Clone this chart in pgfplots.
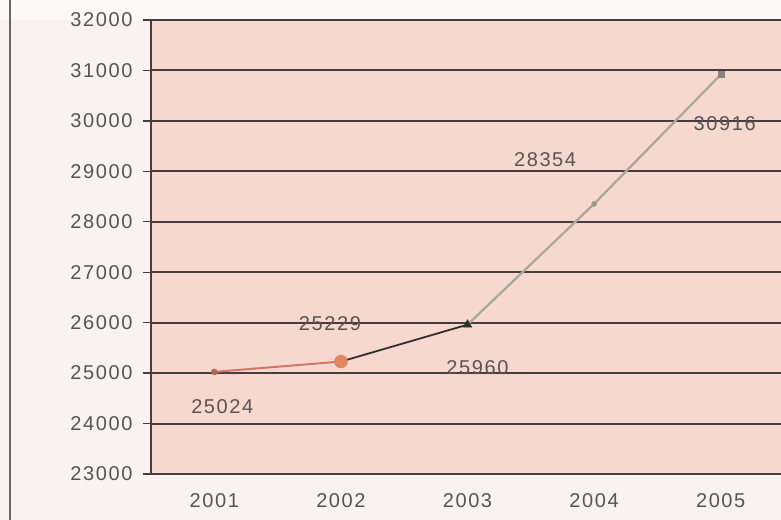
\documentclass[border=0pt]{standalone}
\usepackage{pgfplots}
\pgfplotsset{compat=1.18}
\usepackage{pgfplotstable}
\usepackage{fontspec}
\setmainfont{Liberation Sans}[LetterSpace=8]

\definecolor{plotbg}{HTML}{F6D8CF}
\definecolor{pagebg}{HTML}{FAF2F2}
\definecolor{gridc}{HTML}{463E3E}
\definecolor{txt}{HTML}{585454}
\definecolor{segA}{HTML}{D07868}
\definecolor{segB}{HTML}{303030}
\definecolor{segC}{HTML}{ABA89C}

% year index, value, label offset (bp)
\pgfplotstableread{
x y dx dy
1 25024 8 -35
2 25229 -11 38
3 25960 10 -43
4 28354 -49 44
5 30916 4 -49
}\datatable

\begin{document}
\begin{tikzpicture}
\useasboundingbox[fill=pagebg] (-151bp,-46bp) rectangle (630bp,474bp);
\fill[white,opacity=0.6] (-151bp,454bp) rectangle (630bp,474bp);
\draw[gridc!80, line width=1.8bp] (-141bp,-46bp) -- (-141bp,474bp);
\begin{axis}[
  at={(0,0)}, anchor=south west,
  scale only axis, width=633bp, height=454bp,
  xmin=0.5, xmax=5.5, ymin=23000, ymax=32000,
  axis background/.style={fill=plotbg},
  font=\fontsize{20bp}{23bp}\selectfont\color{txt},
  ytick distance=1000,
  scaled y ticks=false,
  /pgf/number format/.cd, 1000 sep={}, assume math mode=true,
  /pgfplots/.cd,
  ymajorgrids,
  grid style={gridc, line width=1.9bp},
  axis x line*=bottom, axis y line*=left,
  axis line style={gridc, line width=1.8bp, -},
  xtick={1,2,3,4,5},
  xticklabels={2001,2002,2003,2004,2005},
  x tick style={draw=none},
  extra x ticks={1.5,2.5,3.5,4.5},
  extra x tick labels={},
  extra x tick style={tick style={draw=gridc, line width=1.4bp}, major tick length=10bp, tick align=center},
  y tick style={gridc, line width=1.4bp},
  major tick length=8bp,
  tick align=outside,
  xticklabel style={yshift=-8bp},
  yticklabel style={xshift=-7bp},
  clip=false,
]
\addplot[segA, line width=2bp] coordinates {(1,25024) (2,25229)};
\addplot[segB, line width=1.8bp] coordinates {(2,25229) (3,25960)};
\addplot[segC, line width=2.3bp] coordinates {(3,25960) (4,28354) (5,30916)};

\addplot[only marks, mark=*, mark size=3bp, color=segA!85!black] coordinates {(1,25024)};
\addplot[only marks, mark=*, mark size=6.5bp, color={rgb,255:red,226;green,134;blue,96}] coordinates {(2,25229)};
\addplot[only marks, mark=triangle*, mark size=5bp, color={rgb,255:red,40;green,52;blue,44}] coordinates {(3,25960)};
\addplot[only marks, mark=*, mark size=2.5bp, color=segC!90!black] coordinates {(4,28354)};
\addplot[only marks, mark=square*, mark size=3bp, color={rgb,255:red,140;green,128;blue,128}] coordinates {(5,30916)};

\addplot[draw=none, mark=none,
  nodes near coords, point meta=explicit symbolic,
  visualization depends on={\thisrow{dx} \as \dx},
  visualization depends on={\thisrow{dy} \as \dy},
  every node near coord/.append style={anchor=center, xshift=\dx bp, yshift=\dy bp, color=txt, inner sep=0pt},
] table[x=x, y=y, meta=y] {\datatable};
\end{axis}
\end{tikzpicture}
\end{document}
